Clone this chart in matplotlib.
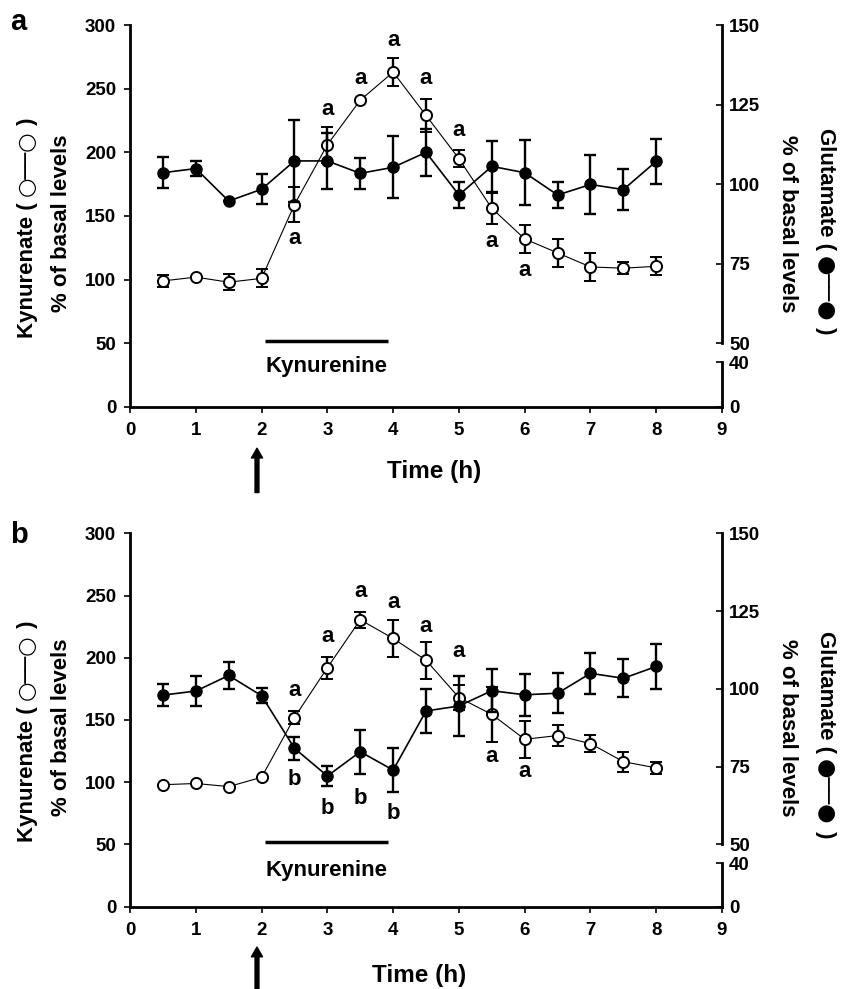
import numpy as np
import matplotlib
import matplotlib.pyplot as plt

matplotlib.rc('font', family=['Liberation Sans', 'DejaVu Sans'], weight='bold', size=13)

time = [0.5, 1, 1.5, 2, 2.5, 3, 3.5, 4, 4.5, 5, 5.5, 6, 6.5, 7, 7.5, 8]

# panel a - kynurenate (left axis) and glutamate (right axis), % of basal
kyn_a = [99, 102, 98, 101, 159, 206, 241, 263, 229, 195, 156, 132, 121, 110, 109, 110.5]
kyn_a_err = [5, 0, 6.5, 7, 14, 14, 0, 11, 13, 6.5, 12, 11, 11, 11, 4.5, 7]
glu_a = [103.6, 104.9, 94.7, 98.4, 107.3, 107.3, 103.4, 105.3, 110, 96.6, 105.6, 103.6, 96.6, 99.9, 98.3, 107.2]
glu_a_err = [4.9, 2.4, 0, 4.7, 12.9, 8.8, 4.8, 9.8, 7.3, 4.2, 8.1, 10.2, 4.2, 9.4, 6.5, 7.1]
marks_a_x = [2.5, 3.0, 3.5, 4.0, 4.5, 5.0, 5.5, 6.0]
marks_a_y = [132, 234, 258, 288, 258, 217, 130, 107]
marks_a = ['a', 'a', 'a', 'a', 'a', 'a', 'a', 'a']

# panel b
kyn_b = [98, 99, 96.5, 104, 152, 192, 230.5, 215.5, 198, 168, 154.5, 134.5, 137.5, 131, 116.5, 111.5]
kyn_b_err = [0, 0, 0, 0, 5, 8.7, 6.4, 14.7, 14.7, 10, 22, 15, 8.4, 7.1, 8, 4.6]
glu_b = [98.0, 99.3, 104.3, 97.8, 80.9, 72.0, 79.8, 73.9, 92.9, 94.5, 99.4, 98.1, 98.6, 105.0, 103.4, 107.2]
glu_b_err = [3.6, 4.9, 4.3, 2.4, 3.6, 3.2, 7.1, 7.1, 7.1, 9.5, 6.9, 6.8, 6.4, 6.5, 6.1, 7.3]
marks_b_x = [2.5, 3.0, 3.5, 4.0, 4.5, 5.0, 5.5, 6.0, 2.5, 3.0, 3.5, 4.0]
marks_b_y = [174, 217, 253, 244, 225.5, 205, 121, 108.5, 102, 79, 87, 75]
marks_b = ['a', 'a', 'a', 'a', 'a', 'a', 'a', 'a', 'b', 'b', 'b', 'b']

# kynurenine infusion bar
infusion = [2.05, 3.92]

LS = ['Liberation Sans']
DV = ['DejaVu Sans']


def rot_label(ax, x, yc, parts, rotation):
    # rotated label made of pieces in different fonts, stacked along the text direction
    r = ax.figure.canvas.get_renderer()
    texts = [ax.text(x, yc, s, transform=ax.transAxes, rotation=rotation, ha='center',
                     va='center', fontsize=fs, family=fam, weight=w) for s, fs, fam, w in parts]
    hs = [t.get_window_extent(r).height for t in texts]
    yc_disp = ax.transAxes.transform((x, yc))[1]
    sign = 1 if rotation == 90 else -1
    pos = yc_disp - sign * sum(hs) / 2
    for t, h in zip(texts, hs):
        c = pos + sign * h / 2
        pos += sign * h
        t.set_y(ax.transAxes.inverted().transform((0, c))[1])


def panel(ax, kyn, kyn_err, glu, glu_err, mx, my, mt, time_x, time_y, kyn_y):
    ax.set_xlim(0, 9)
    ax.set_ylim(0, 300)
    ax.spines[['top', 'right']].set_visible(False)
    ax.spines['left'].set_linewidth(2)
    ax.spines['bottom'].set_linewidth(2)
    ax.set_xticks(range(10))
    ax.set_yticks(range(0, 301, 50))
    ax.tick_params(axis='y', direction='out', length=4, width=1.2, labelsize=13.5, pad=6)
    ax.tick_params(axis='x', direction='out', length=4, width=1.2, labelsize=13.5, pad=7)

    # broken right axis: 50-150 on top, 0-40 below
    glu_ax = ax.twinx()
    glu_ax.set_ylim(30, 150)
    low_ax = ax.twinx()
    low_ax.set_ylim(0, 40 * 300 / 35)
    for a2 in (glu_ax, low_ax):
        a2.spines[['top', 'left', 'bottom']].set_visible(False)
        a2.spines['right'].set_linewidth(2)
        a2.tick_params(direction='in', length=4, width=1.2, labelsize=13.5, pad=5)
    glu_ax.spines['right'].set_bounds(50, 150)
    glu_ax.set_yticks([50, 75, 100, 125, 150])
    low_ax.spines['right'].set_bounds(0, 40)
    low_ax.set_yticks([0, 40])

    ax.errorbar(time, kyn, yerr=kyn_err, fmt='o-', color='black', mfc='white', mec='black',
                ms=8, mew=1.4, lw=0.8, elinewidth=1.7, capsize=4, capthick=1.7)
    glu_ax.errorbar(time, glu, yerr=glu_err, fmt='o-', color='black', mfc='black',
                    ms=8, lw=1.2, elinewidth=1.7, capsize=4, capthick=1.7)

    for x, y, t in zip(mx, my, mt):
        ax.text(x, y, t, ha='center', va='center', fontsize=16)

    ax.plot(infusion, [52, 52], color='black', lw=2.5, solid_capstyle='butt')
    ax.text(np.mean(infusion), kyn_y, 'Kynurenine', ha='center', va='baseline', fontsize=16)

    ax.text(time_x, time_y, 'Time (h)', transform=ax.get_xaxis_transform(),
            ha='center', va='baseline', fontsize=17.5)
    ax.annotate('', xy=(1.93, -0.108), xytext=(1.93, -0.224),
                xycoords=('data', 'axes fraction'), textcoords=('data', 'axes fraction'),
                arrowprops=dict(width=2.8, headwidth=8, headlength=7, color='black'),
                annotation_clip=False)

    rot_label(ax, -0.174, 0.47, [('Kynurenate ( ', 16, LS, 'bold'), ('○──○', 16, DV, 'normal'),
                                 (' )', 16, LS, 'bold')], 90)
    ax.text(-0.115, 0.48, '% of basal levels', transform=ax.transAxes, rotation=90,
            ha='center', va='center', fontsize=16)
    rot_label(ax, 1.174, 0.46, [('Glutamate ( ', 16, LS, 'bold'), ('●──●', 16, DV, 'normal'),
                                (' )', 16, LS, 'bold')], 270)
    ax.text(1.111, 0.48, '% of basal levels', transform=ax.transAxes, rotation=270,
            ha='center', va='center', fontsize=16)


fig = plt.figure(figsize=(8.46, 9.89), dpi=100)
ax1 = fig.add_axes([0.1537, 0.5885, 0.6998, 0.3862])
ax2 = fig.add_axes([0.1537, 0.0832, 0.6998, 0.3776])

panel(ax1, kyn_a, kyn_a_err, glu_a, glu_a_err, marks_a_x, marks_a_y, marks_a, 4.63, -0.186, 27.5)
panel(ax2, kyn_b, kyn_b_err, glu_b, glu_b_err, marks_b_x, marks_b_y, marks_b, 4.40, -0.201, 24.4)

fig.text(0.012, 0.9697, 'a', fontsize=21, va='baseline')
fig.text(0.012, 0.4507, 'b', fontsize=21, va='baseline')

fig.savefig('out.png', dpi=100)
